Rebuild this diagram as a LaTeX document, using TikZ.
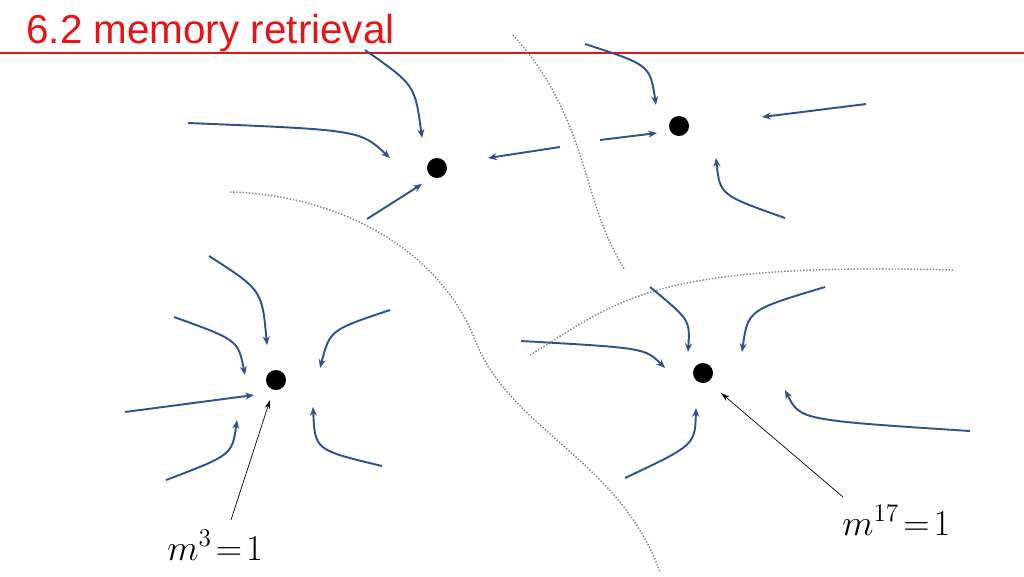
\documentclass[tikz,border=0pt]{standalone}
\usepackage{fontspec}
\setsansfont{Liberation Sans}
\usetikzlibrary{arrows.meta}
\definecolor{flowblue}{RGB}{47,82,143}
\definecolor{titlered}{RGB}{230,20,20}
\begin{document}
\begin{tikzpicture}[x=0.02cm,y=-0.02cm]
    \tikzstyle{flow} = [flowblue, line width=1.1pt, -{Stealth[length=5pt,width=4pt]}]
    \tikzstyle{pointer} = [black, line width=0.4pt, -{Stealth[length=5pt,width=3pt]}]
    \tikzstyle{border} = [gray, densely dotted, line width=0.8pt]
    \tikzstyle{attractor} = [circle, fill=black, inner sep=0pt, minimum size=0.4cm]
    \useasboundingbox (0,0) rectangle (1024,576);

    \node[anchor=base west, inner sep=0pt, text=titlered, font=\sffamily\fontsize{23}{27}\selectfont](title) at (26,43){6.2 memory retrieval};
    \draw[titlered, line width=0.8pt] (0,53) -- (1024,53);

    \node[attractor](A1) at (437,168){};
    \node[attractor](A2) at (679,126){};
    \node[attractor](A3) at (276,380){};
    \node[attractor](A4) at (703,373){};

    % borders between basins
    \draw[border] (513,35) .. controls (590,120) and (580,200) .. (625,270);
    \draw[border] (230,192) .. controls (340,195) and (440,250) .. (475,340) .. controls (510,430) and (620,460) .. (660,572);
    \draw[border] (530,355) .. controls (620,300) and (650,262) .. (955,270);

    % flows into A1
    \draw[flow] (365,50) .. controls (415,85) .. (422,138);
    \draw[flow] (188,123) .. controls (360,130) .. (390,158);
    \draw[flow] (560,147) -- (488,158);
    \draw[flow] (367,219) -- (422,184);
    % flows into A2
    \draw[flow] (585,44) .. controls (650,65) .. (656,105);
    \draw[flow] (866,104) -- (762,117);
    \draw[flow] (600,140) -- (657,133);
    \draw[flow] (785,218) .. controls (720,195) .. (716,158);
    % flows into A3
    \draw[flow] (209,256) .. controls (262,290) .. (267,345);
    \draw[flow] (174,317) .. controls (238,340) .. (245,375);
    \draw[flow] (390,310) .. controls (330,330) .. (320,368);
    \draw[flow] (125,412) -- (254,395);
    \draw[flow] (166,480) .. controls (232,455) .. (237,420);
    \draw[flow] (382,466) .. controls (315,450) .. (313,407);
    % flows into A4
    \draw[flow] (650,287) .. controls (690,320) .. (688,352);
    \draw[flow] (825,287) .. controls (748,310) .. (742,352);
    \draw[flow] (521,341) .. controls (645,348) .. (665,368);
    \draw[flow] (970,431) .. controls (800,420) .. (785,390);
    \draw[flow] (625,478) .. controls (695,445) .. (696,408);

    % labels
    \node[anchor=base west, inner sep=0pt, font=\fontsize{20}{24}\selectfont](L3) at (167,560){$m^{3}\!=\!1$};
    \node[anchor=base west, inner sep=0pt, font=\fontsize{20}{24}\selectfont](L17) at (842,535){$m^{17}\!=\!1$};
    \draw[pointer] (231,520) -- (270,400);
    \draw[pointer] (843,497) -- (721,393);
\end{tikzpicture}
\end{document}
